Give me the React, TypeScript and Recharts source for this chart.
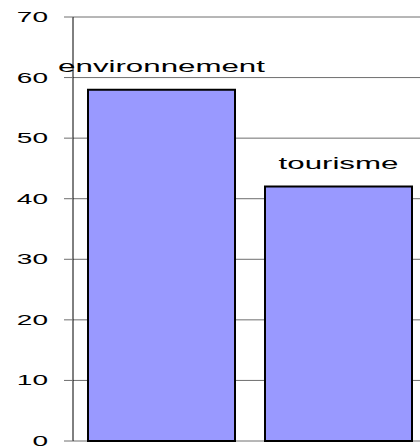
import { BarChart, Bar, XAxis, YAxis, CartesianGrid, LabelList } from 'recharts';

const categories = ['environnement', 'tourisme'];
const values = [58, 42];
const yTicks = [0, 10, 20, 30, 40, 50, 60, 70];

const data = categories.map((name, i) => ({ name, value: values[i] }));

const FONT = '"Liberation Sans", Arial, sans-serif';

// the reference text is stretched sideways, so scale it horizontally
function YTick(props: any) {
  const { x, y, payload } = props;
  return (
    <g transform={`translate(${x},${y + 5}) scale(2,1)`}>
      <text x={0} y={0} textAnchor="end" fontSize={14} fontFamily={FONT} fill="#000">
        {payload.value}
      </text>
    </g>
  );
}

function BarLabel(props: any) {
  const { x, y, width, value } = props;
  return (
    <g transform={`translate(${x + width / 2},${y - 18}) scale(1.84,1)`}>
      <text x={0} y={0} textAnchor="middle" fontSize={17} fontFamily={FONT} fill="#000">
        {value}
      </text>
    </g>
  );
}

export default function App() {
  return (
    <div
      style={{
        position: 'absolute',
        left: 0,
        top: 0,
        width: 420,
        height: 448,
        overflow: 'hidden',
        background: '#fff',
      }}
    >
      <BarChart
        width={440}
        height={448}
        data={data}
        margin={{ top: 17, right: 13, left: 0, bottom: 7 }}
        barCategoryGap={15}
      >
        <CartesianGrid vertical={false} stroke="#6e6e6e" />
        <XAxis dataKey="name" hide />
        <YAxis
          domain={[0, 70]}
          ticks={yTicks}
          interval={0}
          width={73}
          axisLine={{ stroke: '#000' }}
          tickLine={{ stroke: '#6e6e6e' }}
          tickSize={9}
          tickMargin={16}
          tick={<YTick />}
        />
        <Bar dataKey="value" fill="#9999FF" stroke="#000" strokeWidth={2} isAnimationActive={false}>
          <LabelList dataKey="name" content={<BarLabel />} />
        </Bar>
      </BarChart>
    </div>
  );
}
